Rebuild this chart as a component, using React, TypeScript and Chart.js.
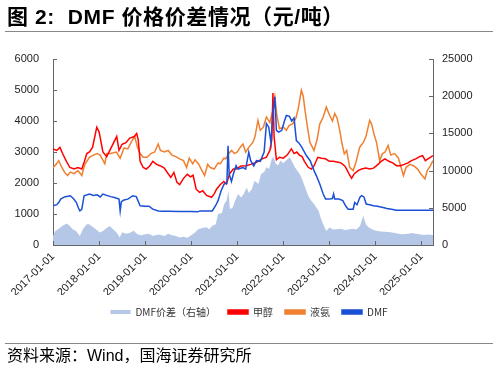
import React, { useEffect, useRef } from "react";
import { Chart, registerables } from "chart.js";

Chart.register(...registerables);

// x values are months since 2017-01-01
const yearLabels = ["2017-01-01", "2018-01-01", "2019-01-01", "2020-01-01", "2021-01-01", "2022-01-01", "2023-01-01", "2024-01-01", "2025-01-01"];
const leftTicks = [0, 1000, 2000, 3000, 4000, 5000, 6000];
const rightTicks = [0, 5000, 10000, 15000, 20000, 25000];

const seriesNames = ["DMF价差（右轴）", "甲醇", "液氨", "DMF"];

const spreadMonths = [0, 0.6, 1.5, 2.5, 3.6, 4.5, 5.2, 6, 7, 7.8, 8.8, 9.4, 10.2, 11, 12.2, 13, 14, 14.8, 15.5, 16.5, 17.4, 18, 19, 20, 21, 22, 23, 24, 25, 26, 27.5, 29, 30, 31, 32, 33, 34, 35, 36, 37, 37.8, 39, 40, 40.7, 41.5, 42.4, 43, 44, 44.6, 45.2, 45.7, 46.1, 46.8, 47.5, 48.2, 49, 49.6, 50.5, 51, 51.8, 52.5, 53.5, 54.2, 55, 55.6, 56.3, 57, 57.4, 58, 58.6, 59.3, 60, 60.8, 61.7, 62.3, 63, 63.6, 64.3, 65, 66, 66.6, 67.3, 68, 68.6, 69.2, 69.7, 70.4, 71.2, 72, 73, 74, 75, 76, 77, 78, 79, 80, 80.8, 81.5, 82.3, 83.5, 84.5, 85.5, 86.5, 88, 89, 90, 91, 92.5, 93.5, 94.5, 95.5, 96.5, 97.5, 99];
const spreadValues = [1216, 1890, 2200, 2600, 2880, 2500, 2100, 1890, 1216, 2160, 2800, 2790, 2500, 2200, 1670, 1890, 2300, 2570, 2200, 1700, 1000, 1700, 1500, 1600, 1900, 1445, 1300, 1445, 1500, 1216, 1400, 1216, 1500, 1300, 1200, 1000, 1100, 990, 1300, 1670, 2120, 2300, 2400, 2120, 2600, 2800, 4150, 4300, 5500, 5940, 7300, 4800, 5040, 6000, 6850, 6390, 6800, 7740, 7000, 7500, 8650, 8200, 9550, 9800, 10440, 10200, 11580, 11800, 11000, 10670, 11350, 11000, 11400, 11800, 11200, 10440, 10000, 9550, 8700, 7300, 6500, 5940, 5500, 5040, 4600, 3690, 2800, 1890, 2350, 2100, 2120, 2200, 2000, 2100, 2200, 2100, 2570, 3920, 2800, 2340, 2000, 1890, 1800, 1770, 1700, 1600, 1500, 1445, 1500, 1600, 1500, 1450, 1350, 1400, 1350];

const methanolMonths = [0, 1, 1.8, 2.5, 3.5, 4.4, 5.5, 6.5, 7.5, 8.2, 8.8, 9.5, 10.3, 10.9, 11.4, 12, 12.4, 13, 14, 15, 16, 16.6, 17.2, 18, 19, 20, 21.2, 21.8, 22.2, 22.7, 23.5, 24.3, 25.2, 26, 27, 28, 29, 30, 30.7, 31.5, 32.3, 33, 34, 35, 35.8, 36.5, 37.3, 38.2, 39, 40, 41.3, 42, 42.6, 43.6, 44.5, 45.2, 46, 47, 47.8, 49, 50.4, 51.5, 53, 54.5, 55.6, 56.5, 57, 57.3, 57.6, 58.2, 59, 60, 61, 62.1, 62.8, 63.5, 64.2, 64.9, 65.5, 66.5, 67.3, 68, 69, 70, 71, 72, 73, 74, 75, 76, 76.5, 77.3, 77.8, 78.5, 79.5, 80.4, 81.5, 82.5, 83.5, 84.7, 85.5, 86.5, 87.5, 88.5, 89.5, 90.5, 91.5, 92.5, 93.4, 94.5, 95.5, 96.3, 97, 98, 99];
const methanolValues = [3100, 3050, 3150, 2950, 2700, 2500, 2450, 2500, 2450, 2700, 2950, 3000, 3150, 3500, 3800, 3650, 3400, 3000, 2850, 3100, 3350, 3500, 3050, 3250, 3300, 3450, 3500, 3600, 3400, 2700, 2500, 2450, 2550, 2700, 2600, 2550, 2480, 2300, 2180, 2340, 2020, 1950, 2150, 2280, 2200, 2250, 1800, 1700, 1750, 1600, 1540, 1650, 1800, 1950, 2050, 1970, 2300, 2450, 2455, 2550, 2560, 2600, 2670, 2780, 2830, 3050, 3400, 4900, 3500, 2750, 2830, 2800, 2900, 3100, 2950, 3000, 2900, 2850, 2700, 2507, 2450, 2550, 2830, 2800, 2780, 2700, 2700, 2680, 2650, 2550, 2450, 2250, 2150, 2300, 2400, 2450, 2480, 2450, 2480, 2600, 2700, 2780, 2700, 2650, 2560, 2560, 2600, 2650, 2720, 2780, 2850, 2880, 2720, 2800, 2880];

const ammoniaMonths = [0, 0.8, 1.5, 2.3, 3, 3.8, 4.5, 5.5, 6.5, 7.5, 8.3, 9.5, 10.5, 11.5, 12.3, 13.5, 14, 15, 16.5, 17.5, 18.5, 19.5, 20.5, 21.3, 22, 22.7, 23.5, 24.5, 25.5, 26.5, 27.4, 28, 29, 30, 31, 32, 33, 34, 34.8, 35.5, 36.4, 37, 38, 38.6, 39.5, 40.3, 41, 42, 43, 43.6, 44.5, 45, 45.8, 46.5, 47.3, 48, 48.8, 49.5, 50.2, 51, 52, 52.6, 53.4, 54, 54.8, 55.6, 56.5, 57.2, 57.8, 58.3, 59, 60, 60.8, 61.5, 62.5, 63.3, 63.9, 64.7, 65.2, 65.7, 66.3, 66.9, 68, 68.8, 69.5, 70.4, 71.2, 72, 72.8, 73.4, 74, 74.7, 75.3, 75.9, 76.5, 77.3, 78.2, 79, 79.9, 80.8, 81.5, 82.5, 83, 83.6, 84.3, 85.1, 85.8, 86.5, 87.3, 88, 89, 90, 90.7, 91.3, 92, 93, 94, 95, 95.8, 96.9, 97.5, 98.3, 99];
const ammoniaValues = [2500, 2600, 2720, 2500, 2350, 2240, 2350, 2300, 2400, 2240, 2600, 2830, 2900, 2950, 2900, 2620, 2950, 2950, 3000, 2800, 3130, 3100, 3350, 3500, 3150, 2950, 2830, 2830, 2950, 3000, 3260, 3050, 3000, 3050, 2900, 2850, 2780, 2720, 2500, 2800, 2620, 2750, 2600, 2450, 2240, 2600, 2500, 2450, 2650, 2617, 2800, 2780, 2950, 3050, 2950, 3000, 3155, 3260, 2995, 3150, 3300, 3480, 4020, 3700, 3800, 4130, 3950, 4300, 4780, 4200, 3750, 3800, 3700, 3850, 3915, 4100, 4400, 4995, 4800, 4300, 3800, 3320, 3050, 3400, 3900, 4130, 4450, 4200, 4000, 4240, 4100, 3700, 3265, 2940, 3050, 2507, 2400, 2700, 3155, 3300, 3480, 4020, 3900, 3590, 3300, 2720, 2940, 3000, 3210, 2900, 2950, 2800, 2500, 2240, 2507, 2600, 2550, 2450, 2300, 2130, 2400, 2550, 2720];

const dmfMonths = [0, 1, 1.5, 2, 3, 4.5, 5.3, 6.1, 6.6, 7, 7.5, 8.1, 9.5, 10.5, 11.5, 12.3, 13, 14, 15, 16, 17.2, 17.5, 17.8, 18.5, 19.5, 20.8, 21.7, 22.7, 24, 25, 26, 27.4, 28.6, 30, 33, 36, 37.7, 38.3, 40.5, 41.5, 42.5, 43, 43.8, 44.6, 45.3, 45.6, 45.9, 46.5, 47, 47.7, 48.2, 49.5, 50.2, 51, 51.5, 52.3, 53, 54, 55, 55.6, 56.2, 56.8, 57.2, 57.8, 58.2, 58.8, 59.6, 60.3, 60.8, 61.6, 62.2, 62.8, 63.4, 64, 64.8, 66, 67, 68, 68.6, 69.5, 70.4, 71, 72, 72.8, 73.1, 73.4, 74.5, 75.5, 76.3, 76.9, 78.2, 78.6, 79.2, 80, 80.4, 81, 81.6, 82.5, 83.5, 84.5, 86, 87, 88.2, 89.5, 99];
const dmfValues = [1265, 1300, 1370, 1480, 1550, 1590, 1500, 1370, 1200, 1100, 1150, 1590, 1645, 1600, 1620, 1550, 1645, 1600, 1560, 1530, 1480, 1100, 1400, 1450, 1480, 1590, 1560, 1265, 1250, 1250, 1155, 1100, 1090, 1090, 1080, 1080, 1070, 1100, 1100, 1100, 1300, 1430, 1750, 1970, 2000, 3200, 2290, 2050, 2300, 2560, 2450, 2500, 2450, 2995, 2720, 2550, 2720, 2700, 2995, 3915, 3800, 3300, 4130, 4780, 3700, 3640, 3700, 4000, 4180, 4150, 4000, 4100, 3370, 3300, 3155, 2885, 2720, 2400, 2240, 1970, 1645, 1480, 1480, 1500, 1645, 1480, 1480, 1430, 1250, 1155, 1155, 1370, 1300, 1550, 1590, 1550, 1320, 1300, 1265, 1250, 1210, 1180, 1155, 1125, 1125];

const zip = (xs: number[], ys: number[]) => xs.map((x, i) => ({ x, y: ys[i] }));

const insideTicks = {
  id: "insideTicks",
  afterDatasetsDraw(chart: any) {
    const { ctx, chartArea } = chart;
    const sx = chart.scales.x;
    const sy = chart.scales.y;
    const sy1 = chart.scales.y1;
    ctx.save();
    ctx.strokeStyle = "#666";
    ctx.lineWidth = 1;
    ctx.beginPath();
    sy.ticks.forEach((t: any) => {
      const p = Math.round(sy.getPixelForValue(t.value)) + 0.5;
      ctx.moveTo(chartArea.left, p);
      ctx.lineTo(chartArea.left + 4, p);
    });
    sy1.ticks.forEach((t: any) => {
      const p = Math.round(sy1.getPixelForValue(t.value)) + 0.5;
      ctx.moveTo(chartArea.right, p);
      ctx.lineTo(chartArea.right - 4, p);
    });
    sx.ticks.forEach((t: any) => {
      const p = Math.round(sx.getPixelForValue(t.value)) + 0.5;
      ctx.moveTo(p, chartArea.bottom);
      ctx.lineTo(p, chartArea.bottom - 4);
    });
    ctx.stroke();
    ctx.restore();
  },
};

const tickFont = { family: "'Liberation Sans', Arial, sans-serif", size: 11 };

function ChartCanvas() {
  const ref = useRef<HTMLCanvasElement>(null);
  useEffect(() => {
    if (!ref.current) return;
    const chart = new Chart(ref.current, {
      type: "line",
      data: {
        datasets: [
          {
            label: seriesNames[0],
            data: zip(spreadMonths, spreadValues),
            yAxisID: "y1",
            fill: "origin",
            backgroundColor: "#B4C7E7",
            borderColor: "#B4C7E7",
            borderWidth: 0,
            pointRadius: 0,
            order: 4,
          },
          {
            label: seriesNames[1],
            data: zip(methanolMonths, methanolValues),
            yAxisID: "y",
            borderColor: "#FF0000",
            backgroundColor: "#FF0000",
            borderWidth: 1.5,
            pointRadius: 0,
            fill: false,
            order: 2,
          },
          {
            label: seriesNames[2],
            data: zip(ammoniaMonths, ammoniaValues),
            yAxisID: "y",
            borderColor: "#F08030",
            backgroundColor: "#F08030",
            borderWidth: 1.5,
            pointRadius: 0,
            fill: false,
            order: 3,
          },
          {
            label: seriesNames[3],
            data: zip(dmfMonths, dmfValues),
            yAxisID: "y",
            borderColor: "#1A4FD8",
            backgroundColor: "#1A4FD8",
            borderWidth: 1.5,
            pointRadius: 0,
            fill: false,
            order: 1,
          },
        ],
      },
      options: {
        animation: false,
        responsive: false,
        devicePixelRatio: 1,
        layout: { padding: { top: 59, left: 0, right: 0, bottom: 45 } },
        elements: { line: { tension: 0 } },
        plugins: {
          legend: {
            position: "bottom",
            labels: {
              boxWidth: 20,
              boxHeight: 4,
              padding: 12,
              color: "#333",
              font: { family: "'Noto Sans CJK SC', sans-serif", size: 10 },
              sort: (a: any, b: any) => a.datasetIndex - b.datasetIndex,
            },
          },
          tooltip: { enabled: false },
        },
        scales: {
          x: {
            type: "linear",
            min: 0,
            max: 99,
            afterBuildTicks: (s: any) => {
              s.ticks = yearLabels.map((_, i) => ({ value: i * 12 }));
            },
            afterFit: (s: any) => {
              s.height = 50;
            },
            grid: { display: false, drawTicks: false },
            border: { display: true, color: "#666", width: 1 },
            ticks: {
              autoSkip: false,
              minRotation: 45,
              maxRotation: 45,
              padding: 5,
              color: "#222",
              font: tickFont,
              callback: (v: any) => yearLabels[Math.round(Number(v) / 12)] ?? "",
            },
          },
          y: {
            type: "linear",
            position: "left",
            min: 0,
            max: 6000,
            afterBuildTicks: (s: any) => {
              s.ticks = leftTicks.map((v) => ({ value: v }));
            },
            afterFit: (s: any) => {
              s.width = 53;
            },
            grid: { display: false, drawTicks: false },
            border: { display: true, color: "#666", width: 1 },
            ticks: { padding: 14, color: "#222", font: tickFont, callback: (v: any) => String(v) },
          },
          y1: {
            type: "linear",
            position: "right",
            min: 0,
            max: 25000,
            afterBuildTicks: (s: any) => {
              s.ticks = rightTicks.map((v) => ({ value: v }));
            },
            afterFit: (s: any) => {
              s.width = 65;
            },
            grid: { display: false, drawTicks: false },
            border: { display: true, color: "#666", width: 1 },
            ticks: { padding: 9, color: "#222", font: tickFont, callback: (v: any) => String(v) },
          },
        },
      },
      plugins: [insideTicks],
    });
    return () => chart.destroy();
  }, []);
  return <canvas ref={ref} width={498} height={372} style={{ position: "absolute", left: 0, top: 0, width: 498, height: 372 }} />;
}

export default function App() {
  return (
    <div style={{ position: "absolute", left: 0, top: 0, width: 498, height: 372, background: "#fff", overflow: "hidden" }}>
      <ChartCanvas />
      <div
        style={{
          position: "absolute",
          left: 7,
          top: 4,
          fontFamily: "'Liberation Sans', 'Noto Sans CJK SC', sans-serif",
          fontWeight: "bold",
          fontSize: 21,
          letterSpacing: 0.6,
          lineHeight: "26px",
          color: "#000",
          whiteSpace: "pre",
        }}
      >
        {"图 2:  DMF 价格价差情况（元/吨）"}
      </div>
      <div style={{ position: "absolute", left: 5, top: 31, width: 488, height: 0, borderTop: "1.5px solid #888" }} />
      <div style={{ position: "absolute", left: 5, top: 343, width: 488, height: 0, borderTop: "1.5px solid #888" }} />
      <div
        style={{
          position: "absolute",
          left: 7,
          top: 346,
          fontFamily: "'Liberation Sans', 'Noto Sans CJK SC', sans-serif",
          fontSize: 16,
          lineHeight: "20px",
          color: "#000",
          whiteSpace: "nowrap",
        }}
      >
        资料来源：Wind，国海证券研究所
      </div>
    </div>
  );
}
